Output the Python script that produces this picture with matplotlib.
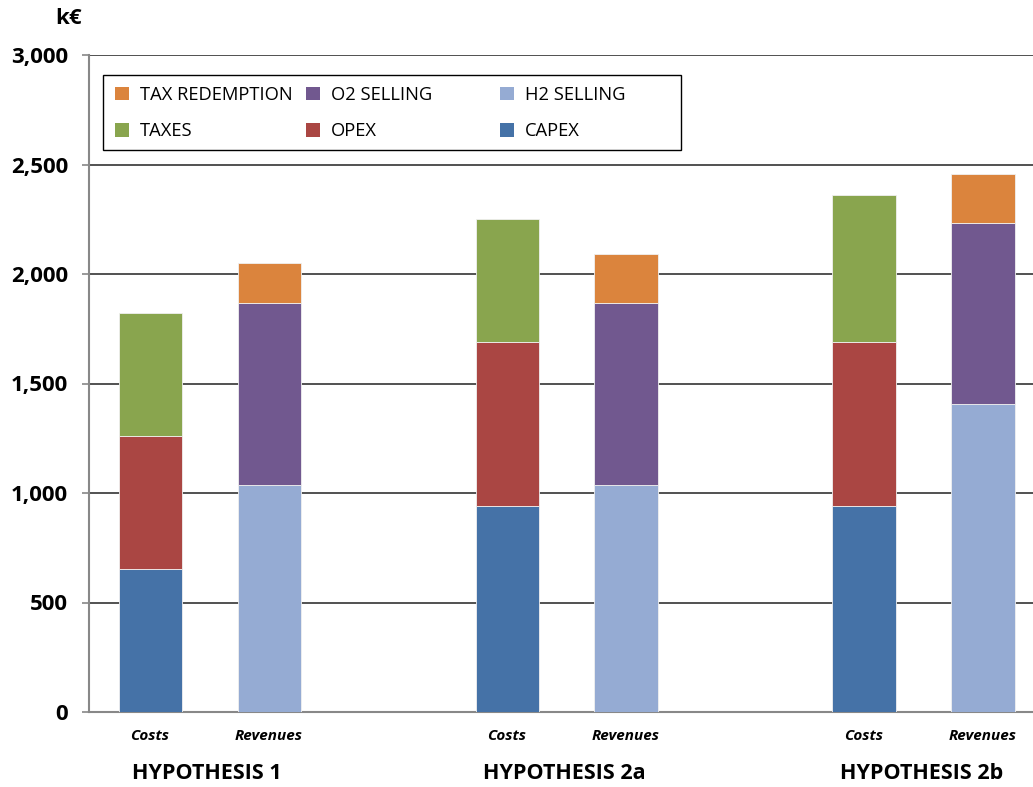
import matplotlib
matplotlib.use("Agg")
import matplotlib.pyplot as plt
from matplotlib.patches import Patch, Rectangle
from matplotlib.legend import Legend

plt.rcParams['font.family'] = ['Open Sans', 'DejaVu Sans']

groups = ["HYPOTHESIS 1", "HYPOTHESIS 2a", "HYPOTHESIS 2b"]
bar_labels = ["Costs", "Revenues"]

capex = [653, 941, 941]
opex = [607, 748, 748]
taxes = [562, 562, 672]
h2_selling = [1037, 1037, 1406]
o2_selling = [831, 831, 827]
tax_redemption = [182, 223, 224]

colors = {
    "CAPEX": "#4572A7",
    "OPEX": "#AA4643",
    "TAXES": "#89A54E",
    "H2 SELLING": "#95ABD3",
    "O2 SELLING": "#71588F",
    "TAX REDEMPTION": "#DB843D",
}

W, H = 1033, 787
fig = plt.figure(figsize=(W / 100, H / 100), dpi=100)
AX_L, AX_R, AX_T, AX_B = 89, 1033, 55, 712
ax = fig.add_axes([AX_L / W, 1 - AX_B / H, (AX_R - AX_L) / W, (AX_B - AX_T) / H])


def axc(px, py):
    return (px - AX_L) / (AX_R - AX_L), (AX_B - py) / (AX_B - AX_T)


width = 0.53
cost_x = [3 * i for i in range(len(groups))]
rev_x = [3 * i + 1 for i in range(len(groups))]

ek = dict(width=width, edgecolor="#f0f0f0", linewidth=0.6, zorder=3)
ax.bar(cost_x, capex, color=colors["CAPEX"], **ek)
ax.bar(cost_x, opex, bottom=capex, color=colors["OPEX"], **ek)
b2 = [a + b for a, b in zip(capex, opex)]
ax.bar(cost_x, taxes, bottom=b2, color=colors["TAXES"], **ek)

ax.bar(rev_x, h2_selling, color=colors["H2 SELLING"], **ek)
ax.bar(rev_x, o2_selling, bottom=h2_selling, color=colors["O2 SELLING"], **ek)
r2 = [a + b for a, b in zip(h2_selling, o2_selling)]
ax.bar(rev_x, tax_redemption, bottom=r2, color=colors["TAX REDEMPTION"], **ek)

ax.set_ylim(0, 3000)
ax.set_xlim(-0.513, 7.42)
ax.set_yticks(range(0, 3001, 500))
ax.set_yticklabels([f"{v:,}" for v in range(0, 3001, 500)], fontsize=16, fontweight="bold")
ax.yaxis.grid(True, color="#222222", linewidth=1.1, zorder=0)
ax.set_axisbelow(True)
for s in ["top", "right"]:
    ax.spines[s].set_visible(False)
ax.spines["left"].set_color("#888888")
ax.spines["left"].set_linewidth(1.5)
ax.spines["bottom"].set_color("#888888")
ax.spines["bottom"].set_linewidth(1.5)
ax.tick_params(axis="y", length=5, color="#888888", width=1.2, pad=10)

xt = []
xl = []
for c, r in zip(cost_x, rev_x):
    xt += [c, r]
    xl += bar_labels
ax.set_xticks(xt)
ax.set_xticklabels(xl, fontsize=11, fontweight="bold", fontstyle="italic")
ax.tick_params(axis="x", length=0, pad=12)

for i, g in enumerate(groups):
    ax.text((cost_x[i] + rev_x[i]) / 2 - 0.02, -0.094, g, transform=ax.get_xaxis_transform(),
            ha="center", va="center", fontsize=15.5, fontweight="bold")

fig.text(69 / W, 1 - 18 / H, "k€", ha="center", va="center", fontsize=16, fontweight="bold")

# legend: frame + three columns
x0, y0 = axc(103, 150)
x1, y1 = axc(681, 75)
ax.add_patch(Rectangle((x0, y0), x1 - x0, y1 - y0, transform=ax.transAxes,
                       facecolor="white", edgecolor="black", linewidth=1.0, zorder=5))

columns = [["TAX REDEMPTION", "TAXES"], ["O2 SELLING", "OPEX"], ["H2 SELLING", "CAPEX"]]
col_px = [115, 306, 500]
for cols, px in zip(columns, col_px):
    handles = [Patch(facecolor=colors[k], label=k) for k in cols]
    lx, ly = axc(px, 113)
    lg = Legend(ax, handles, cols, loc="center left", bbox_to_anchor=(lx, ly),
                fontsize=13.2, frameon=False, handlelength=0.75, handleheight=0.75,
                handletextpad=0.6, labelspacing=1.02, borderpad=0, borderaxespad=0)
    lg.set_zorder(6)
    ax.add_artist(lg)

fig.savefig("out.png", dpi=100)
